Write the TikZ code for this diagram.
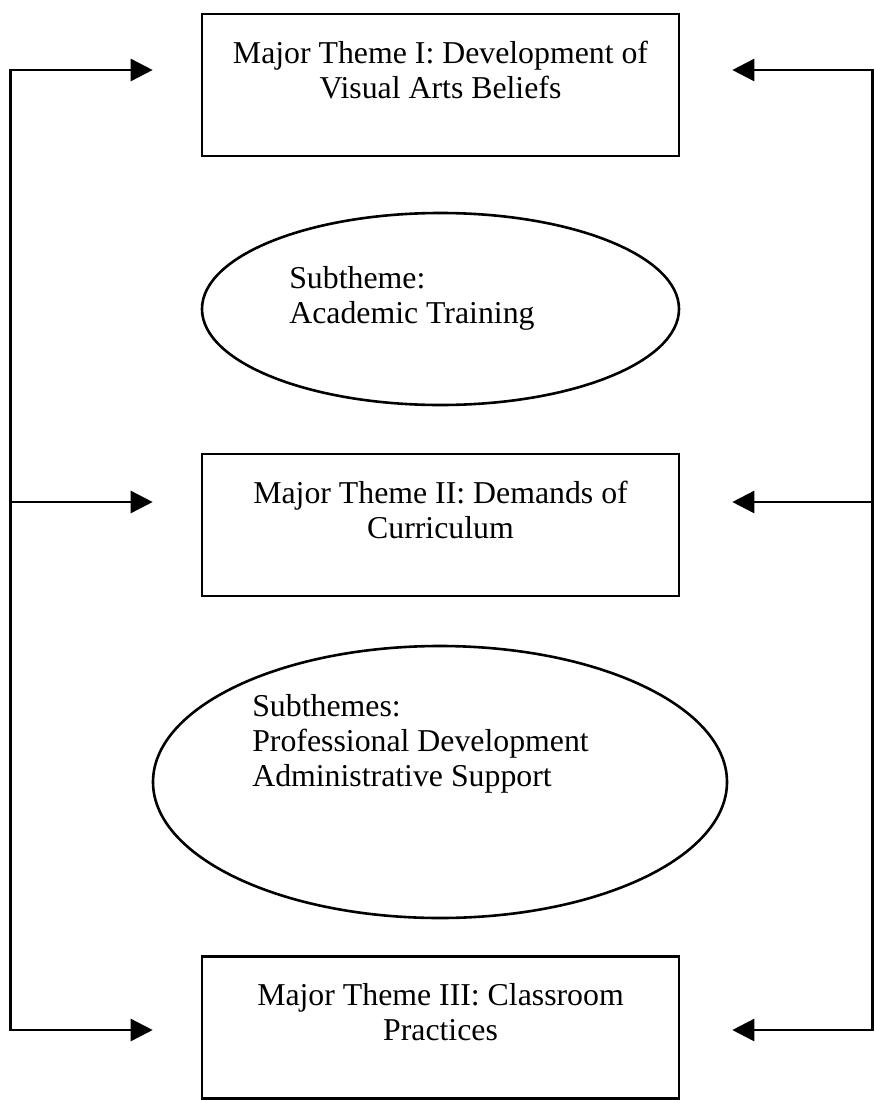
\documentclass[tikz,border=0pt]{standalone}
\usepackage{fontspec}
\setmainfont{Liberation Serif}
\usetikzlibrary{shapes.geometric,arrows.meta,positioning}

\begin{document}
\begin{tikzpicture}[x=1pt,y=-1pt,line width=2.6pt,
  font=\fontsize{31.8}{35}\selectfont,
  themebox/.style={draw,minimum width=477pt,minimum height=142pt,inner sep=0pt},
  themetext/.style={align=center,inner sep=0pt},
  subtheme/.style={draw,ellipse,inner sep=0pt},
  subtext/.style={align=left,inner sep=0pt,anchor=north west},
  link/.style={-{Triangle[length=22pt,width=22pt]}}]
\useasboundingbox (0,0) rectangle (875,1100);
% major themes
\node[themebox] (t1) at (440.5,85) {};
\node[themebox] (t2) at (440.5,525) {};
\node[themebox] (t3) at (440.5,1027.5) {};
\node[themetext,below=27pt of t1.north] (t1x) {Major Theme I: Development of\\Visual Arts Beliefs};
\node[themetext,below=27pt of t2.north] (t2x) {Major Theme II: Demands of\\Curriculum};
\node[themetext,below=27pt of t3.north] (t3x) {Major Theme III: Classroom\\Practices};
% subthemes
\node[subtheme,minimum width=477pt,minimum height=192pt] (s1) at (440.5,309) {};
\node[subtheme,minimum width=574pt,minimum height=272pt] (s2) at (440,782) {};
\node[subtext] (s1x) at (288,265) {Subtheme:\\Academic Training};
\node[subtext] (s2x) at (251,693) {Subthemes:\\Professional Development\\Administrative Support};
% side arrows
\foreach \i/\y in {1/70,2/502,3/1030}{
  \coordinate (l\i) at (10.7,\y);
  \coordinate (r\i) at (872.5,\y);
  \draw[link,shorten >=48pt] (l\i) -- (l\i -| t\i.west);
  \draw[link,shorten >=52pt] (r\i) -- (r\i -| t\i.east);
}
\draw[line cap=rect] (l1) -- (l3);
\draw[line cap=rect] (r1) -- (r3);
\end{tikzpicture}
\end{document}
